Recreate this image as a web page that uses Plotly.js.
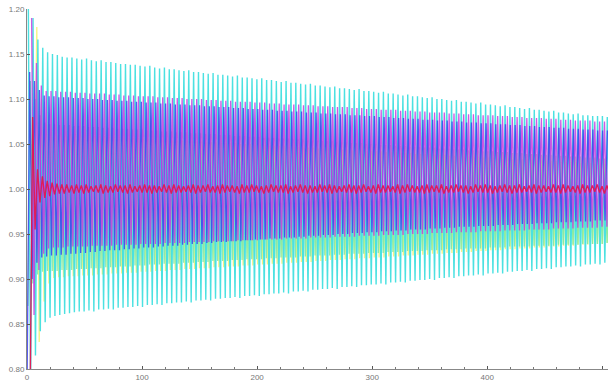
<!DOCTYPE html>
<html><head><meta charset="utf-8">
<script src="https://cdn.plot.ly/plotly-3.0.1.min.js"></script>
<style>html,body{margin:0;padding:0;background:#fff}#chart{width:608px;height:383px}</style>
</head><body><div id="chart"></div>
<script>
// Turning-point values (peak / trough of each oscillation cycle)
const cyanHi=[1.240,1.190,1.166,1.157,1.152,1.150,1.149,1.147,1.146,1.146,
1.145,1.144,1.145,1.143,1.142,1.143,1.141,1.141,1.140,1.139,
1.139,1.138,1.138,1.137,1.136,1.137,1.135,1.134,1.135,1.133,
1.133,1.132,1.131,1.132,1.130,1.130,1.129,1.128,1.129,1.127,
1.127,1.126,1.125,1.126,1.124,1.124,1.123,1.122,1.123,1.121,
1.121,1.120,1.119,1.120,1.118,1.118,1.117,1.116,1.117,1.115,
1.115,1.114,1.113,1.114,1.112,1.112,1.111,1.110,1.111,1.109,
1.109,1.108,1.107,1.108,1.106,1.106,1.105,1.104,1.105,1.103,
1.103,1.102,1.101,1.102,1.100,1.100,1.099,1.098,1.099,1.097,
1.097,1.096,1.095,1.096,1.094,1.094,1.093,1.092,1.093,1.091,
1.091,1.090,1.089,1.090,1.088,1.088,1.087,1.086,1.087,1.085,
1.085,1.084,1.083,1.084,1.082,1.082,1.081,1.081,1.081,1.080];
const cyanLo=[0.770,0.815,0.842,0.852,0.857,0.859,0.860,0.861,0.862,0.863,
0.864,0.864,0.865,0.864,0.866,0.866,0.867,0.866,0.868,0.868,
0.869,0.869,0.870,0.869,0.871,0.871,0.872,0.871,0.873,0.873,
0.874,0.874,0.875,0.874,0.876,0.876,0.877,0.876,0.878,0.878,
0.879,0.879,0.880,0.879,0.881,0.881,0.882,0.881,0.883,0.883,
0.884,0.884,0.885,0.884,0.886,0.886,0.887,0.886,0.888,0.888,
0.889,0.889,0.890,0.889,0.891,0.891,0.892,0.891,0.893,0.893,
0.894,0.894,0.895,0.894,0.896,0.896,0.897,0.896,0.898,0.898,
0.899,0.899,0.900,0.899,0.901,0.901,0.902,0.901,0.903,0.903,
0.904,0.904,0.905,0.904,0.906,0.906,0.907,0.906,0.908,0.908,
0.909,0.909,0.910,0.909,0.911,0.911,0.912,0.911,0.913,0.913,
0.914,0.914,0.915,0.914,0.916,0.916,0.917,0.916,0.918,0.918];
const blueHi=[1.130,1.120,1.110,1.104,1.103,1.103,1.102,1.102,1.102,1.101,
1.101,1.101,1.100,1.100,1.100,1.099,1.099,1.099,1.098,1.098,
1.098,1.097,1.097,1.097,1.096,1.096,1.096,1.095,1.095,1.095,
1.094,1.094,1.094,1.093,1.093,1.093,1.092,1.092,1.092,1.091,
1.091,1.091,1.090,1.090,1.090,1.089,1.089,1.089,1.088,1.088,
1.088,1.087,1.087,1.087,1.086,1.086,1.086,1.085,1.085,1.085,
1.084,1.084,1.084,1.083,1.083,1.083,1.082,1.082,1.082,1.081,
1.081,1.081,1.080,1.080,1.080,1.079,1.079,1.079,1.078,1.078,
1.078,1.077,1.077,1.077,1.076,1.076,1.076,1.075,1.075,1.075,
1.074,1.074,1.074,1.073,1.073,1.073,1.072,1.072,1.072,1.071,
1.071,1.071,1.070,1.070,1.070,1.069,1.069,1.069,1.068,1.068,
1.068,1.067,1.067,1.067,1.066,1.066,1.066,1.065,1.065,1.065];
const blueLo=[0.800,0.900,0.918,0.924,0.925,0.926,0.926,0.927,0.927,0.928,
0.928,0.929,0.929,0.930,0.930,0.931,0.931,0.932,0.932,0.932,
0.933,0.933,0.934,0.934,0.935,0.935,0.935,0.936,0.936,0.937,
0.937,0.937,0.938,0.938,0.939,0.939,0.939,0.940,0.940,0.941,
0.941,0.941,0.942,0.942,0.942,0.943,0.943,0.944,0.944,0.944,
0.945,0.945,0.945,0.946,0.946,0.946,0.947,0.947,0.948,0.948,
0.948,0.949,0.949,0.949,0.950,0.950,0.950,0.951,0.951,0.951,
0.952,0.952,0.952,0.953,0.953,0.953,0.954,0.954,0.954,0.955,
0.955,0.955,0.955,0.956,0.956,0.956,0.957,0.957,0.957,0.958,
0.958,0.958,0.958,0.959,0.959,0.959,0.959,0.960,0.960,0.960,
0.960,0.961,0.961,0.961,0.961,0.962,0.962,0.962,0.962,0.963,
0.963,0.963,0.963,0.964,0.964,0.964,0.964,0.965,0.965,0.965];
const magentaHi=[1.190,1.140,1.115,1.109,1.109,1.109,1.108,1.108,1.108,1.107,
1.107,1.107,1.106,1.106,1.106,1.106,1.105,1.105,1.105,1.104,
1.104,1.104,1.103,1.103,1.103,1.103,1.102,1.102,1.102,1.101,
1.101,1.101,1.100,1.100,1.100,1.100,1.099,1.099,1.099,1.098,
1.098,1.098,1.097,1.097,1.097,1.097,1.096,1.096,1.096,1.095,
1.095,1.095,1.094,1.094,1.094,1.094,1.093,1.093,1.093,1.092,
1.092,1.092,1.091,1.091,1.091,1.091,1.090,1.090,1.090,1.089,
1.089,1.089,1.088,1.088,1.088,1.088,1.087,1.087,1.087,1.086,
1.086,1.086,1.085,1.085,1.085,1.085,1.084,1.084,1.084,1.083,
1.083,1.083,1.082,1.082,1.082,1.082,1.081,1.081,1.081,1.080,
1.080,1.080,1.079,1.079,1.079,1.079,1.078,1.078,1.078,1.077,
1.077,1.077,1.076,1.076,1.076,1.076,1.075,1.075,1.075,1.074];
const magentaLo=[0.860,0.910,0.928,0.934,0.935,0.935,0.935,0.936,0.936,0.936,
0.936,0.936,0.937,0.937,0.937,0.937,0.937,0.938,0.938,0.938,
0.938,0.938,0.939,0.939,0.939,0.939,0.939,0.940,0.940,0.940,
0.940,0.940,0.941,0.941,0.941,0.941,0.941,0.942,0.942,0.942,
0.942,0.942,0.943,0.943,0.943,0.943,0.943,0.944,0.944,0.944,
0.944,0.944,0.945,0.945,0.945,0.945,0.945,0.946,0.946,0.946,
0.946,0.946,0.947,0.947,0.947,0.947,0.947,0.948,0.948,0.948,
0.948,0.948,0.949,0.949,0.949,0.949,0.949,0.950,0.950,0.950,
0.950,0.950,0.951,0.951,0.951,0.951,0.951,0.952,0.952,0.952,
0.952,0.952,0.953,0.953,0.953,0.953,0.953,0.954,0.954,0.954,
0.954,0.954,0.955,0.955,0.955,0.955,0.955,0.956,0.956,0.956,
0.956,0.956,0.957,0.957,0.957,0.957,0.957,0.958,0.958,0.958];
const greenHi=[1.120,1.100,1.082,1.074,1.072,1.072,1.071,1.071,1.071,1.070,
1.070,1.070,1.069,1.069,1.069,1.068,1.068,1.068,1.067,1.067,
1.067,1.066,1.066,1.066,1.065,1.065,1.065,1.064,1.064,1.064,
1.063,1.063,1.063,1.062,1.062,1.062,1.061,1.061,1.061,1.060,
1.060,1.060,1.059,1.059,1.059,1.058,1.058,1.058,1.057,1.057,
1.057,1.056,1.056,1.056,1.055,1.055,1.055,1.054,1.054,1.054,
1.053,1.053,1.053,1.052,1.052,1.052,1.051,1.051,1.051,1.050,
1.050,1.050,1.049,1.049,1.049,1.048,1.048,1.048,1.047,1.047,
1.047,1.046,1.046,1.046,1.045,1.045,1.045,1.044,1.044,1.044,
1.043,1.043,1.043,1.042,1.042,1.042,1.041,1.041,1.041,1.040,
1.040,1.040,1.039,1.039,1.039,1.038,1.038,1.038,1.037,1.037,
1.037,1.036,1.036,1.036,1.035,1.035,1.035,1.034,1.034,1.034];
const greenLo=[0.870,0.895,0.905,0.908,0.909,0.909,0.909,0.910,0.910,0.910,
0.911,0.911,0.911,0.912,0.912,0.912,0.913,0.913,0.913,0.914,
0.914,0.914,0.915,0.915,0.915,0.916,0.916,0.916,0.917,0.917,
0.917,0.917,0.918,0.918,0.918,0.919,0.919,0.919,0.920,0.920,
0.920,0.920,0.921,0.921,0.921,0.922,0.922,0.922,0.922,0.923,
0.923,0.923,0.924,0.924,0.924,0.924,0.925,0.925,0.925,0.926,
0.926,0.926,0.926,0.927,0.927,0.927,0.928,0.928,0.928,0.928,
0.929,0.929,0.929,0.929,0.930,0.930,0.930,0.930,0.931,0.931,
0.931,0.931,0.932,0.932,0.932,0.932,0.933,0.933,0.933,0.933,
0.934,0.934,0.934,0.934,0.934,0.935,0.935,0.935,0.935,0.936,
0.936,0.936,0.936,0.936,0.937,0.937,0.937,0.937,0.937,0.938,
0.938,0.938,0.938,0.938,0.939,0.939,0.939,0.939,0.939,0.940];
const yellowHi=[1.050,1.180,1.100,1.072,1.063,1.062,1.062,1.061,1.061,1.061,
1.060,1.060,1.060,1.059,1.059,1.059,1.058,1.058,1.058,1.057,
1.057,1.057,1.057,1.056,1.056,1.056,1.055,1.055,1.055,1.054,
1.054,1.054,1.054,1.053,1.053,1.053,1.052,1.052,1.052,1.051,
1.051,1.051,1.051,1.050,1.050,1.050,1.049,1.049,1.049,1.048,
1.048,1.048,1.048,1.047,1.047,1.047,1.046,1.046,1.046,1.045,
1.045,1.045,1.045,1.044,1.044,1.044,1.043,1.043,1.043,1.042,
1.042,1.042,1.042,1.041,1.041,1.041,1.040,1.040,1.040,1.039,
1.039,1.039,1.039,1.038,1.038,1.038,1.037,1.037,1.037,1.036,
1.036,1.036,1.036,1.035,1.035,1.035,1.034,1.034,1.034,1.033,
1.033,1.033,1.033,1.032,1.032,1.032,1.031,1.031,1.031,1.030,
1.030,1.030,1.030,1.029,1.029,1.029,1.028,1.028,1.028,1.027];
const yellowLo=[0.950,0.830,0.875,0.895,0.901,0.902,0.902,0.903,0.903,0.903,
0.904,0.904,0.904,0.905,0.905,0.905,0.906,0.906,0.906,0.907,
0.907,0.907,0.908,0.908,0.908,0.909,0.909,0.909,0.910,0.910,
0.910,0.911,0.911,0.911,0.912,0.912,0.912,0.913,0.913,0.913,
0.914,0.914,0.914,0.915,0.915,0.915,0.916,0.916,0.916,0.917,
0.917,0.917,0.918,0.918,0.918,0.919,0.919,0.919,0.920,0.920,
0.920,0.921,0.921,0.921,0.922,0.922,0.922,0.923,0.923,0.923,
0.924,0.924,0.924,0.925,0.925,0.925,0.926,0.926,0.926,0.927,
0.927,0.927,0.928,0.928,0.928,0.929,0.929,0.929,0.930,0.930,
0.930,0.931,0.931,0.931,0.932,0.932,0.932,0.933,0.933,0.933,
0.934,0.934,0.934,0.935,0.935,0.935,0.936,0.936,0.936,0.937,
0.937,0.937,0.938,0.938,0.938,0.939,0.939,0.939,0.940,0.940];
const redLo=[0.780,0.955,0.985,0.990,0.992,0.994,0.995,0.995,0.996,0.995,
0.996,0.995,0.996,0.997,0.996,0.995,0.996,0.996,0.997,0.996,
0.995,0.996,0.997,0.996,0.996,0.995,0.996,0.997,0.996,0.995,
0.996,0.996,0.997,0.996,0.995,0.996,0.997,0.996,0.996,0.995,
0.996,0.997,0.996,0.995,0.996,0.996,0.997,0.996,0.995,0.996,
0.997,0.996,0.996,0.995,0.996,0.997,0.996,0.995,0.996,0.996,
0.997,0.996,0.995,0.996,0.997,0.996,0.996,0.995,0.996,0.997,
0.996,0.995,0.996,0.996,0.997,0.996,0.995,0.996,0.997,0.996,
0.996,0.995,0.996,0.997,0.996,0.995,0.996,0.996,0.997,0.996,
0.995,0.996,0.997,0.996,0.996,0.995,0.996,0.997,0.996,0.995,
0.996,0.996,0.997,0.996,0.995,0.996,0.997,0.996,0.996,0.995,
0.996,0.997,0.996,0.995,0.996,0.996,0.997,0.996,0.995,0.996];
const redHi=[1.080,1.022,1.014,1.009,1.007,1.006,1.005,1.005,1.004,1.005,
1.004,1.005,1.003,1.004,1.005,1.004,1.003,1.005,1.004,1.004,
1.005,1.003,1.004,1.005,1.004,1.004,1.003,1.005,1.004,1.005,
1.004,1.003,1.004,1.005,1.004,1.004,1.005,1.003,1.004,1.005,
1.004,1.004,1.003,1.005,1.004,1.005,1.004,1.003,1.004,1.005,
1.004,1.004,1.005,1.003,1.004,1.005,1.004,1.004,1.003,1.005,
1.004,1.005,1.004,1.003,1.004,1.005,1.004,1.004,1.005,1.003,
1.004,1.005,1.004,1.004,1.003,1.005,1.004,1.005,1.004,1.003,
1.004,1.005,1.004,1.004,1.005,1.003,1.004,1.005,1.004,1.004,
1.003,1.005,1.004,1.005,1.004,1.003,1.004,1.005,1.004,1.004,
1.005,1.003,1.004,1.005,1.004,1.004,1.003,1.005,1.004,1.005,
1.004,1.003,1.004,1.005,1.004,1.004,1.005,1.003,1.004,1.005];

const xTickVals=[0,100,200,300,400,500];
const xTickText=["0","100","200","300","400","500"];
const yTickVals=[0.80,0.85,0.90,0.95,1.00,1.05,1.10,1.15,1.20];
const yTickText=["0.80","0.85","0.90","0.95","1.00","1.05","1.10","1.15","1.20"];

// build an oscillation path from alternating turning values (time step between samples = half period)
function path(first, second, t0, halfStep){
  const x=[], y=[];
  for(let k=0;k<first.length;k++){
    x.push(t0+2*k*halfStep); y.push(first[k]);
    x.push(t0+(2*k+1)*halfStep); y.push(second[k]);
  }
  return {x, y};
}
function tr(p, color, width, op){
  return {type:'scatter', mode:'lines', x:p.x, y:p.y, line:{color:color, width:width}, opacity:op, hoverinfo:'skip', showlegend:false};
}
const data=[
  tr(path(yellowHi,yellowLo,4.3,2.11),'rgb(238,238,80)',1.3,0.7),
  tr(path(greenLo,greenHi,0.8,2.115),'rgb(120,232,165)',1.3,0.85),
  tr(path(cyanHi,cyanLo,1.0,2.115),'rgb(60,222,222)',1.4,0.92),
  tr(path(blueLo,blueHi,0.2,2.11),'rgb(60,65,238)',1.3,0.85),
  tr(path(magentaHi,magentaLo,4.0,2.11),'rgb(198,60,225)',1.3,0.85),
  tr(path(redLo,redHi,2.8,2.115),'rgb(228,22,82)',1.4,0.95)
];
const font={family:'Liberation Sans, Arial, sans-serif', size:8, color:'#777'};
const layout={
  width:608, height:383,
  margin:{l:27, r:0, t:9, b:14, pad:0},
  paper_bgcolor:'#fff', plot_bgcolor:'#fff',
  showlegend:false,
  xaxis:{range:[0,505], showgrid:false, zeroline:false, showline:true, linecolor:'#888', linewidth:1,
    tickmode:'array', tickvals:xTickVals, ticktext:xTickText, ticks:'inside', ticklen:3, tickcolor:'#555',
    minor:{dtick:20, tick0:0, ticks:'inside', ticklen:2, tickcolor:'#777', showgrid:false},
    tickfont:font, ticklabelstandoff:0},
  yaxis:{range:[0.80,1.20], showgrid:false, zeroline:false, showline:true, linecolor:'#888', linewidth:1,
    tickmode:'array', tickvals:yTickVals, ticktext:yTickText, ticks:'inside', ticklen:3, tickcolor:'#555',
    tickfont:font}
};
Plotly.newPlot('chart', data, layout, {staticPlot:true, displayModeBar:false});
</script></body></html>
